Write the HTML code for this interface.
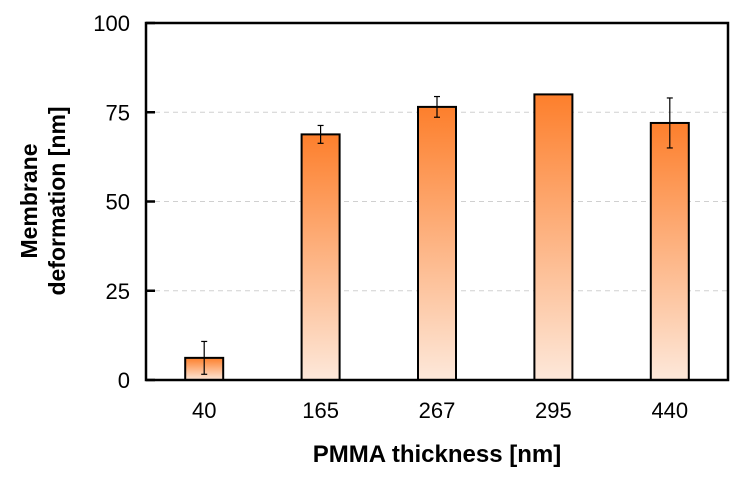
<!DOCTYPE html>
<html><head><meta charset="utf-8"><style>
body{margin:0;background:#fff;}
svg text{font-family:"Liberation Sans",Arial,sans-serif;fill:#000;}
</style></head><body>
<svg id="chart" width="734" height="472" viewBox="0 0 734 472" xmlns="http://www.w3.org/2000/svg">
<defs><linearGradient id="g" x1="0" y1="0" x2="0" y2="1">
<stop offset="0" stop-color="#fd7f2c"/><stop offset="1" stop-color="#fde8da"/></linearGradient></defs>
<g id="grid"></g>
<g id="bars"></g>
<rect x="146" y="23" width="582" height="357" fill="none" stroke="#000" stroke-width="2.5"/>
<g id="axes"></g>
<text x="437" y="462" text-anchor="middle" font-size="24" font-weight="bold">PMMA thickness [nm]</text>
<text transform="translate(42,201) rotate(-90)" text-anchor="middle" font-size="23" font-weight="bold"><tspan x="0" dy="-5">Membrane</tspan><tspan x="0" dy="28">deformation [nm]</tspan></text>
</svg>
<script>
const categories=["40","165","267","295","440"];
const values=[6.2,68.8,76.5,80,72];
const errors=[4.6,2.5,2.9,0,7];
const yTicks=[0,25,50,75,100];
const NS="http://www.w3.org/2000/svg";
const L=146,R=728,T=23,B=380;
const y=v=>B-(v/100)*(B-T);
const band=(R-L)/categories.length;
const x=i=>L+band*(i+0.5);
function mk(tag,attrs,parent){const e=document.createElementNS(NS,tag);for(const k in attrs)e.setAttribute(k,attrs[k]);parent.appendChild(e);return e;}
const grid=document.getElementById('grid'),bars=document.getElementById('bars'),axes=document.getElementById('axes');
yTicks.forEach(t=>{
  if(t>0&&t<100){const g=mk('line',{x1:L,x2:R,y1:y(t),y2:y(t),stroke:'#d0d0d0','stroke-dasharray':'5,4','stroke-width':1},grid);
  
  }
  const tk=mk('line',{x1:L,x2:L+9,y1:y(t),y2:y(t),stroke:'#000','stroke-width':2.5},axes);
  
  
  const lb=mk('text',{x:L-16,y:y(t)+8,'text-anchor':'end','font-size':22},axes);
  lb.textContent=t;
  
  
});
const bw=38;
categories.forEach((c,i)=>{
  const r=mk('rect',{x:x(i)-bw/2,y:y(values[i]),width:bw,height:B-y(values[i]),fill:'url(#g)',stroke:'#000','stroke-width':2},bars);
  
  
  if(errors[i]>0){
    const hi=y(values[i]+errors[i]),lo=y(values[i]-errors[i]);
    const eg=mk('g',{stroke:'#000','stroke-width':1.2},bars);
    
    
    mk('line',{x1:x(i),x2:x(i),y1:hi,y2:lo},eg);
    mk('line',{x1:x(i)-3,x2:x(i)+3,y1:hi,y2:hi},eg);
    mk('line',{x1:x(i)-3,x2:x(i)+3,y1:lo,y2:lo},eg);
  }
  const lb=mk('text',{x:x(i),y:B+38,'text-anchor':'middle','font-size':22},axes);
  lb.textContent=c;
  
  
});
</script>
</body></html>
